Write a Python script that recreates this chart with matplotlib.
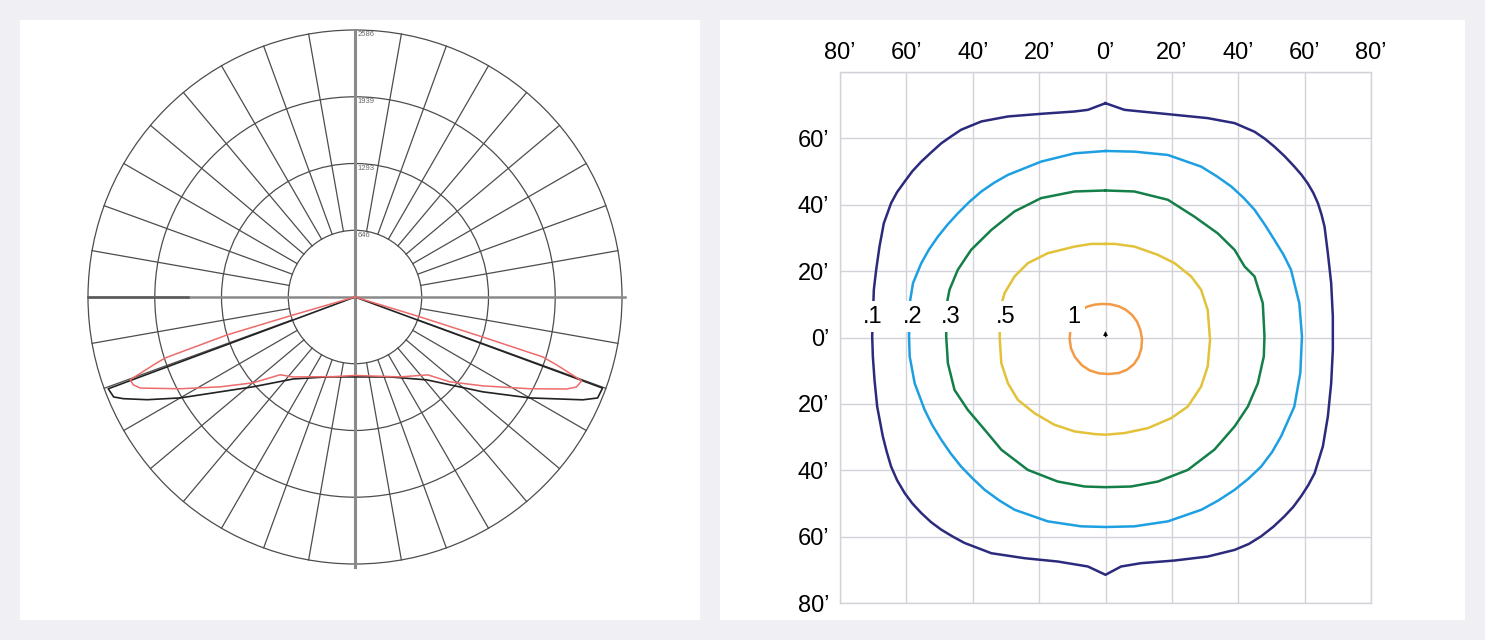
import numpy as np
import matplotlib
matplotlib.use("Agg")
import matplotlib.pyplot as plt
from matplotlib.patches import Rectangle, Circle

plt.rcParams['font.family'] = ['Liberation Sans', 'DejaVu Sans']

# ---------- data

# polar diagram rings (cd) and spoke spacing (deg)
ring_values = [646, 1293, 1939, 2586]
spoke_step = 10

# luminous intensity curves: angle from nadir (deg), intensity (cd)
black_angle = [-72.5, -69.6, -67.5, -66.3, -63.7, -60.0, -55.9, -48.6, -37.0, -19.3, 0.0,
               23.6, 40.9, 53.4, 60.0, 65.7, 67.4, 69.8, 72.5]
black_cd = [0, 2550, 2530, 2450, 2245, 1955, 1656, 1315, 994, 820, 774,
            845, 1062, 1540, 1955, 2420, 2545, 2555, 0]

red_angle = [-74.5, -73.8, -73.5, -72.2, -71.5, -69.8, -68.4, -67.0, -62.3, -56.3, -49.9,
             -43.9, -37.8, -15.4, 0.0, 29.4, 43.1, 48.2, 55.2, 62.3, 66.5, 67.9, 69.7,
             71.4, 72.3, 72.6, 73.0, 74.5]
red_cd = [0, 625, 1290, 1930, 2040, 2320, 2310, 2258, 1912, 1568, 1290,
          1045, 980, 800, 760, 888, 1033, 1233, 1508, 1912, 2235, 2316, 2340,
          2060, 1908, 1300, 640, 0]

# iso-illuminance lines (degrees from the fixture axis)
iso_01_x = [0, -5.3, -9.3, -19.4, -29.4, -37.4, -43.5, -46.5, -49.5, -52.5, -55.5, -58.2, -60.5,
            -62.8, -64.6, -66.8, -68.1, -69.1, -69.8, -70.1, -70.3, -70.1, -69.6, -68.8, -67.1,
            -65.9, -64.6, -62.8, -60.5, -58.2, -55.5, -52.6, -49.5, -46.0, -42.5, -34.4, -24.4,
            -14.4, -5.3, 0, 4.7, 10.7, 20.8, 30.8, 38.9, 43.2, 46.9, 50.6, 53.9, 56.6, 58.9,
            61.1, 63.0, 65.5, 67.0, 68.0, 68.5, 68.5, 68.0, 67.0, 66.0, 65.1, 64.0, 62.6, 60.9,
            59.0, 56.9, 54.0, 50.9, 48.0, 44.9, 38.9, 30.8, 20.8, 10.7, 5.7]
iso_01_y = [70.6, 68.6, 68.1, 67.4, 66.6, 65.1, 62.6, 60.6, 58.5, 55.8, 53.0, 50.1, 47.0,
            43.8, 40.5, 34.4, 27.4, 20.4, 14.4, 6.3, 0.3, -5.7, -12.8, -20.8, -29.8,
            -34.5, -38.9, -43.0, -46.9, -50.0, -52.9, -55.6, -57.9, -60.0, -61.9, -65.0, -66.5,
            -67.5, -69.0, -71.5, -69.0, -68.0, -67.2, -66.0, -64.0, -62.2, -59.9, -57.0, -53.9,
            -51.0, -47.9, -44.5, -40.9, -32.8, -23.8, -13.8, -3.7, 6.3, 16.4, 25.4, 33.4, 37.0,
            40.5, 43.6, 46.5, 49.1, 51.5, 54.6, 57.5, 59.9, 62.0, 64.6, 66.1, 67.1, 68.1, 68.6]

iso_02_x = [0, -9.3, -19.4, -29.4, -33.6, -37.4, -41.1, -44.5, -47.6, -50.5, -53.2, -55.5,
            -58.0, -59.0, -59.2, -59.0, -57.5, -54.5, -52.2, -49.5, -46.6, -43.5, -40.0,
            -36.4, -32.0, -27.4, -17.4, -7.3, 0, 8.7, 18.8, 28.9, 34.0, 38.9, 43.0, 46.9, 50.2,
            52.9, 56.9, 58.7, 59.2, 58.4, 55.9, 53.6, 50.9, 48.0, 44.9, 41.6, 37.9, 33.5,
            28.8, 18.8, 8.7]
iso_02_y = [56.2, 55.5, 53.0, 49.0, 46.6, 44.0, 40.8, 37.4, 34.0, 30.4, 26.5, 22.4,
            16.4, 10.3, 0.3, -5.7, -13.8, -21.8, -26.4, -30.8, -35.0, -38.9, -42.5,
            -45.9, -49.1, -51.9, -55.4, -56.9, -57.1, -56.9, -55.4, -51.9, -49.1, -45.9, -42.6,
            -38.9, -34.5, -29.8, -20.8, -10.7, 0.3, 10.3, 20.4, 25.0, 29.4, 34.0, 38.5, 42.1,
            45.5, 48.6, 51.5, 55.0, 56.0]

iso_03_x = [0, -9.3, -19.4, -27.4, -34.4, -40.5, -44.5, -47.0, -48.0, -48.0, -47.5, -45.5, -41.5,
            -36.4, -31.4, -23.4, -14.4, -6.3, 0, 7.7, 15.8, 24.8, 32.8, 38.9, 42.9, 45.9, 47.7,
            47.9, 47.4, 44.9, 41.9, 38.9, 33.8, 26.8, 18.8, 8.7]
iso_03_y = [44.3, 44.0, 42.0, 38.0, 32.4, 26.4, 20.4, 14.4, 9.3, 0.3, -7.7, -15.8, -21.8,
            -27.8, -33.8, -39.9, -43.4, -44.9, -45.1, -44.9, -43.4, -39.9, -33.8, -26.8, -20.8,
            -13.8, -5.7, 0.3, 10.3, 18.4, 21.4, 26.4, 31.4, 36.4, 41.5, 44.0]

iso_05_x = [0, -4.3, -9.3, -17.4, -23.4, -27.4, -30.4, -31.6, -31.9, -31.4, -29.4, -26.4, -21.4,
            -15.4, -9.3, -3.3, 0, 5.7, 12.8, 19.8, 24.8, 28.8, 30.8, 31.5, 30.8, 28.8, 25.8,
            20.8, 15.8, 8.7, 2.7]
iso_05_y = [28.2, 28.2, 27.4, 25.4, 22.4, 18.4, 13.4, 9.3, 0.3, -7.7, -13.8, -18.8, -22.8,
            -26.3, -28.3, -29.1, -29.3, -28.8, -27.3, -24.3, -20.8, -14.8, -8.7, -0.7, 8.3,
            14.4, 18.4, 22.4, 24.9, 27.4, 28.2]

iso_1_x = [-7.3, -5.5, -3.3, -1.0, 1.5, 4.0, 6.2, 8.0, 9.5, 10.5, 11.0, 10.8, 10.0, 8.6,
           6.5, 4.0, 1.0, -2.0, -4.8, -7.2, -9.2, -10.4, -10.8, -10.6, -10.0]
iso_1_y = [8.3, 9.3, 9.9, 10.1, 10.0, 9.4, 8.3, 6.8, 4.8, 2.3, -0.5, -3.3, -5.8, -8.0,
           -9.7, -10.7, -11.0, -10.8, -9.9, -8.3, -5.9, -3.3, -0.5, 2.3, 4.8]

iso_labels = ['.1', '.2', '.3', '.5', '1']
iso_label_x = [-70.1, -58.0, -46.5, -30.2, -9.6]
iso_label_y = 6.3

grid_ticks = [-80, -60, -40, -20, 0, 20, 40, 60, 80]
y_label_ticks = [-80, -60, -40, -20, 0, 20, 40, 60]

# ---------- figure

W, H = 1485, 640
fig = plt.figure(figsize=(W / 100, H / 100), dpi=100)
fig.patch.set_facecolor('#f0eff4')

# white panels (pixel boxes)
for x0, x1 in [(20, 700), (720, 1465)]:
    fig.add_artist(Rectangle((x0 / W, 20 / H), (x1 - x0) / W, 600 / H,
                             transform=fig.transFigure, facecolor='white',
                             edgecolor='none', zorder=0))

# ---------- left: polar intensity diagram

ax0 = fig.add_axes([20 / W, 20 / H, 680 / W, 600 / H])
ax0.set_axis_off()
s = 267 / ring_values[-1]          # px per cd
ax0.set_xlim(-335 / s, 345 / s)
ax0.set_ylim(-323 / s, 277 / s)

grid_col = '#4d4d4d'
r0, r1 = ring_values[0], ring_values[-1]
for r in ring_values:
    ax0.add_patch(Circle((0, 0), r, fill=False, ec=grid_col, lw=0.9))
for a in range(0, 360, spoke_step):
    if a % 90 == 0:
        continue
    t = np.radians(a)
    ax0.plot([r0 * np.cos(t), r1 * np.cos(t)], [r0 * np.sin(t), r1 * np.sin(t)],
             color=grid_col, lw=0.9)

ax0.plot([-r1, r1 + 30], [0, 0], color='#8a8a8a', lw=1.8)
ax0.plot([-r1, -r1 + 970], [0, 0], color='#5a5a5a', lw=1.8)
ax0.plot([0, 0], [-r1 - 30, r1], color='#8a8a8a', lw=2.2)

for v in ring_values:
    ax0.text(22, v - 12, str(v), fontsize=5.5, color='#666666', ha='left', va='top')

def to_xy(ang, cd):
    g = np.radians(np.asarray(ang))
    cd = np.asarray(cd)
    return cd * np.sin(g), -cd * np.cos(g)

bx, by = to_xy(black_angle, black_cd)
rx, ry = to_xy(red_angle, red_cd)
ax0.plot(bx, by, color='#222222', lw=1.2, zorder=3)
ax0.plot(rx, ry, color='#ee6b6b', lw=1.1, zorder=4)

# ---------- right: iso-illuminance diagram

ax1 = fig.add_axes([840 / W, 37 / H, 531 / W, 531 / H])
ax1.set_xlim(-80, 80)
ax1.set_ylim(-80, 80)
ax1.set_xticks(grid_ticks)
ax1.set_xticklabels([f"{abs(v)}\u2019" for v in grid_ticks])
ax1.set_yticks(grid_ticks)
ax1.set_yticklabels([f"{abs(v)}\u2019" if v in y_label_ticks else '' for v in grid_ticks])
ax1.tick_params(length=0, labelsize=17, top=True, labeltop=True,
                bottom=False, labelbottom=False)
ax1.tick_params(axis='x', pad=6)
ax1.tick_params(axis='y', pad=8)
ax1.grid(color='#d2d2da', lw=1)
for sp in ax1.spines.values():
    sp.set_color('#d2d2da')
    sp.set_linewidth(1)

iso_x = [iso_01_x, iso_02_x, iso_03_x, iso_05_x, iso_1_x]
iso_y = [iso_01_y, iso_02_y, iso_03_y, iso_05_y, iso_1_y]
iso_colors = ['#2c2a7c', '#1d9fe2', '#147f48', '#e2c23a', '#f29a46']
for xs, ys, c in zip(iso_x, iso_y, iso_colors):
    ax1.plot(xs + xs[:1], ys + ys[:1], color=c, lw=1.8, zorder=3,
             solid_joinstyle='round')

for lab, lx in zip(iso_labels, iso_label_x):
    ax1.text(lx, iso_label_y, lab, fontsize=17, ha='center', va='center', zorder=5,
             bbox=dict(boxstyle='square,pad=0.2', facecolor='white', edgecolor='none'))

ax1.annotate('', xy=(0, 2.8), xytext=(0, -0.6),
             arrowprops=dict(arrowstyle='-|>', color='black', lw=0.8, mutation_scale=6))

fig.savefig('out.png', dpi=100, facecolor=fig.get_facecolor())
